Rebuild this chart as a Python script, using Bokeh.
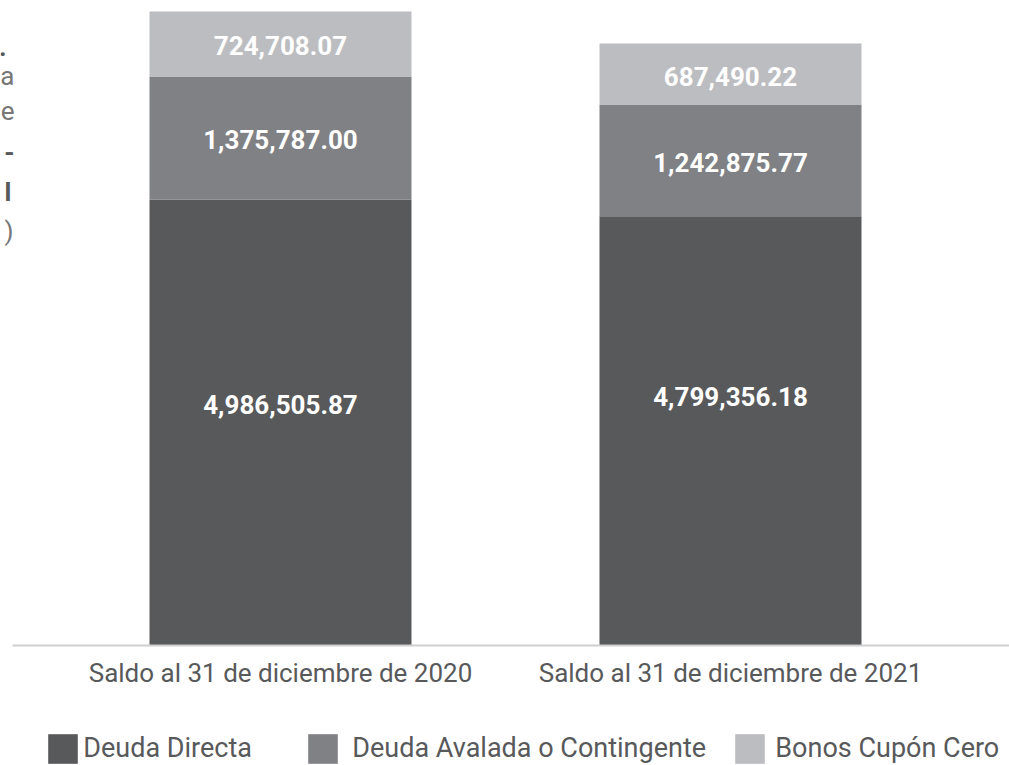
from bokeh.plotting import figure
from bokeh.models import ColumnDataSource, Range1d, Legend, LegendItem, Label
from bokeh.core.properties import value
from bokeh.embed import file_html
from bokeh.resources import INLINE

categories = ["Saldo al 31 de diciembre de 2020", "Saldo al 31 de diciembre de 2021"]
series = ["Deuda Directa", "Deuda Avalada o Contingente", "Bonos Cupón Cero"]
deuda_directa = [4986505.87, 4799356.18]
deuda_avalada = [1375787.00, 1242875.77]
bonos_cupon = [724708.07, 687490.22]
colors = ["#58595b", "#808184", "#bcbdc0"]

xs = list(range(len(categories)))
src = ColumnDataSource(dict(x=xs, d=deuda_directa, a=deuda_avalada, b=bonos_cupon))

W = 1009
x_start, x_end = -0.6222, 1.62
p = figure(width=W, height=765, output_backend="svg", toolbar_location=None,
           x_range=Range1d(x_start, x_end), y_range=Range1d(-1341532, 7210732),
           x_axis_location=None, y_axis_location=None,
           min_border=0)
p.outline_line_color = None
p.grid.visible = False
p.background_fill_color = "white"
p.border_fill_color = "white"

rs = p.vbar_stack(["d", "a", "b"], x="x", width=0.5822, source=src,
                  color=colors, line_color=None)

# baseline (category axis line), starting 12px from the left edge
px_per_unit = W / (x_end - x_start)
p.segment(x0=[x_start + 12 / px_per_unit], y0=[0], x1=[x_end], y1=[0],
          line_color="#cfcfcf", line_width=2)

# category labels under the baseline
csrc = ColumnDataSource(dict(x=xs, y=[0] * len(xs), t=categories))
p.text(x="x", y="y", text="t", source=csrc, y_offset=28, text_align="center",
       text_baseline="middle", text_color="#58595b", text_font=value("Roboto"),
       text_font_size="26px")

# value labels inside the segments
bottom_label_shift = [-18, -34]
lx, ly, lt, loff = [], [], [], []
for i in xs:
    base = 0.0
    for k, vals in enumerate([deuda_directa, deuda_avalada, bonos_cupon]):
        v = vals[i]
        lx.append(i)
        ly.append(base + v / 2.0)
        lt.append(f"{v:,.2f}")
        loff.append(bottom_label_shift[i] if k == 0 else 2)
        base += v
lsrc = ColumnDataSource(dict(x=lx, y=ly, t=lt, off=loff))
p.text(x="x", y="y", text="t", y_offset="off", source=lsrc, text_align="center",
       text_baseline="middle", text_color="white", text_font=value("Roboto"),
       text_font_style="bold", text_font_size="26px")

# legends, one per item, at the bottom
legend_x = [44.3, 304.3, 731.3]
legend_standoff = [2, 11, 7]
for r, name, lxp, so in zip(rs, series, legend_x, legend_standoff):
    lg = Legend(items=[LegendItem(label=name, renderers=[r])], location=(lxp, -1.8),
                orientation="horizontal", glyph_width=37, glyph_height=37,
                label_standoff=so, padding=0, margin=0, spacing=0,
                border_line_color=None, background_fill_alpha=0,
                label_text_font="Roboto", label_text_font_size="27px",
                label_text_color="#58595b", label_height=37,
                label_text_baseline="middle")
    p.add_layout(lg)

# clipped title fragments at the left edge
frag_txt = [".", "a", "e", "-", "l", ")"]
frag_x = [6, 14, 14, 14, 11, 13]
frag_y = [46, 75, 110, 152, 191, 230]
frag_bold = [True, False, False, True, True, False]
for t, xx, yy, b in zip(frag_txt, frag_x, frag_y, frag_bold):
    p.add_layout(Label(x=xx, y=765 - yy, x_units="screen", y_units="screen", text=t,
                       text_align="right", text_baseline="middle",
                       text_font="Roboto", text_font_size="26px",
                       text_font_style="bold" if b else "normal",
                       text_color="#58595b" if b else "#777777"))

open("out.html", "w").write(file_html(p, INLINE))
